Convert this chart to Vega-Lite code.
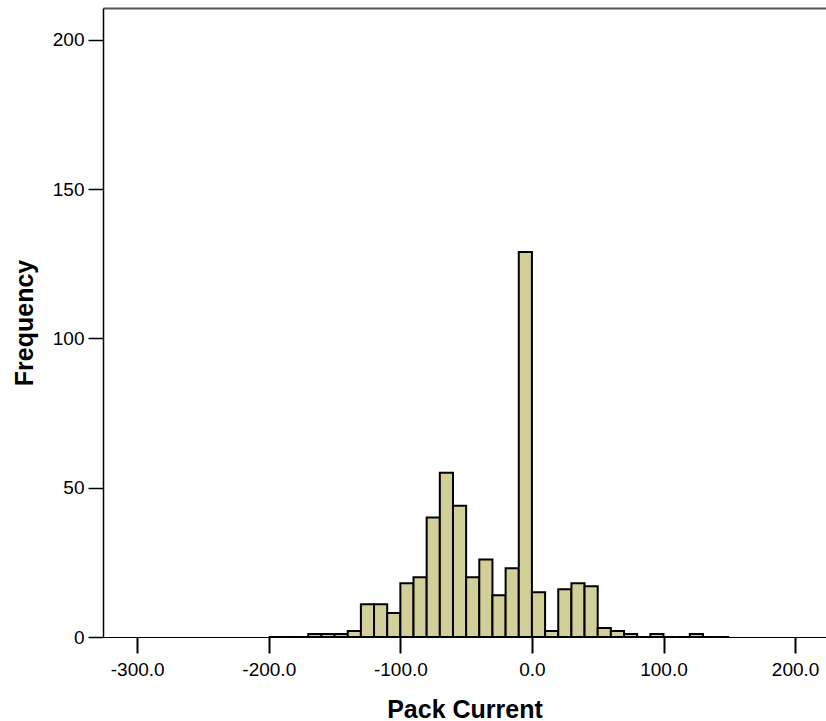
{
  "$schema": "https://vega.github.io/schema/vega-lite/v6.json",
  "width": 723,
  "height": 629,
  "autosize": {"type": "none"},
  "padding": {"left": 103, "top": 8, "right": 0, "bottom": 84},
  "background": "white",
  "config": {
    "view": {"stroke": null},
    "font": "Liberation Sans",
    "axis": {
      "labelFont": "Liberation Sans",
      "titleFont": "Liberation Sans",
      "labelColor": "black",
      "titleColor": "black",
      "domainColor": "black",
      "tickColor": "black",
      "grid": false
    }
  },
  "data": {
    "values": [
      {"start": -200, "end": -190, "count": 0},
      {"start": -190, "end": -180, "count": 0},
      {"start": -180, "end": -170, "count": 0},
      {"start": -170, "end": -160, "count": 1},
      {"start": -160, "end": -150, "count": 1},
      {"start": -150, "end": -140, "count": 1},
      {"start": -140, "end": -130, "count": 2},
      {"start": -130, "end": -120, "count": 11},
      {"start": -120, "end": -110, "count": 11},
      {"start": -110, "end": -100, "count": 8},
      {"start": -100, "end": -90, "count": 18},
      {"start": -90, "end": -80, "count": 20},
      {"start": -80, "end": -70, "count": 40},
      {"start": -70, "end": -60, "count": 55},
      {"start": -60, "end": -50, "count": 44},
      {"start": -50, "end": -40, "count": 20},
      {"start": -40, "end": -30, "count": 26},
      {"start": -30, "end": -20, "count": 14},
      {"start": -20, "end": -10, "count": 23},
      {"start": -10, "end": 0, "count": 129},
      {"start": 0, "end": 10, "count": 15},
      {"start": 10, "end": 20, "count": 2},
      {"start": 20, "end": 30, "count": 16},
      {"start": 30, "end": 40, "count": 18},
      {"start": 40, "end": 50, "count": 17},
      {"start": 50, "end": 60, "count": 3},
      {"start": 60, "end": 70, "count": 2},
      {"start": 70, "end": 80, "count": 1},
      {"start": 80, "end": 90, "count": 0},
      {"start": 90, "end": 100, "count": 1},
      {"start": 100, "end": 110, "count": 0},
      {"start": 110, "end": 120, "count": 0},
      {"start": 120, "end": 130, "count": 1},
      {"start": 130, "end": 140, "count": 0},
      {"start": 140, "end": 150, "count": 0}
    ]
  },
  "layer": [
    {
      "mark": {"type": "rect", "fill": "#d3cf98", "stroke": "black", "strokeWidth": 2},
      "encoding": {
        "x": {
          "field": "start",
          "type": "quantitative",
          "scale": {"domain": [-326, 223.5], "nice": false, "zero": false},
          "axis": {
            "orient": "bottom",
            "values": [-300, -200, -100, 0, 100, 200],
            "labelExpr": "replace(format(datum.value, '.1f'), '\u2212', '-')",
            "title": "Pack Current",
            "titleFontSize": 25,
            "titleFontWeight": "bold",
            "titleBaseline": "alphabetic",
            "titleY": 80,
            "labelFontSize": 19,
            "labelPadding": 7,
            "tickSize": 16,
            "tickWidth": 2,
            "domainWidth": 1
          }
        },
        "x2": {"field": "end"},
        "y": {
          "field": "count",
          "type": "quantitative",
          "scale": {"domain": [0, 210.7], "nice": false},
          "axis": {
            "values": [0, 50, 100, 150, 200],
            "title": "Frequency",
            "titleFontSize": 25,
            "titleFontWeight": "bold",
            "titleAngle": -90,
            "titleBaseline": "alphabetic",
            "titleX": -71,
            "labelFontSize": 19,
            "labelPadding": 4,
            "tickSize": 15,
            "tickWidth": 1.5,
            "domainWidth": 1.5
          }
        },
        "y2": {"datum": 0}
      }
    },
    {
      "mark": {"type": "rule", "opacity": 0},
      "encoding": {
        "x": {
          "datum": 0,
          "type": "quantitative",
          "axis": {
            "orient": "top",
            "labels": false,
            "ticks": false,
            "title": null,
            "domainColor": "#555555",
            "domainWidth": 2
          }
        }
      }
    }
  ],
  "resolve": {"axis": {"x": "independent"}}
}
